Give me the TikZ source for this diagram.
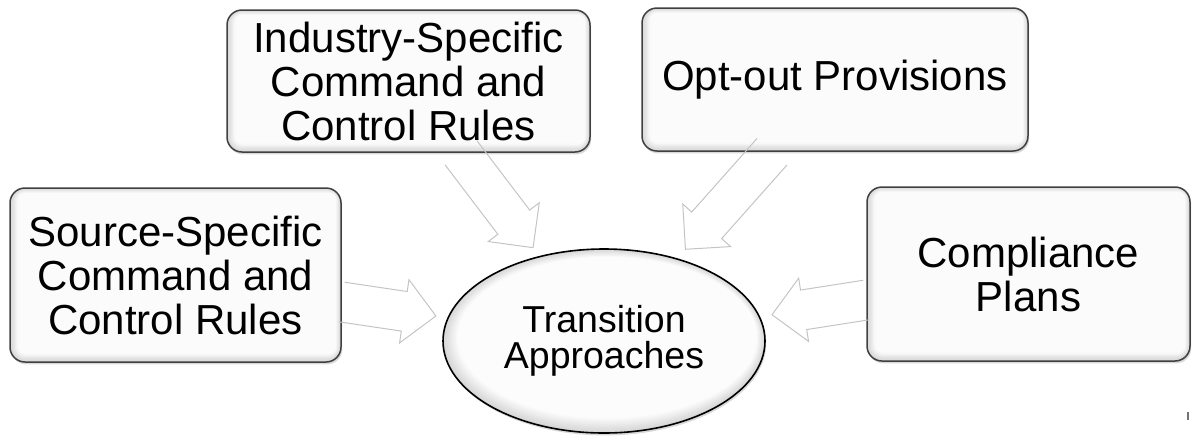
\documentclass[tikz,border=0pt]{standalone}
\usepackage{fontspec}
\setmainfont{Liberation Sans}
\usetikzlibrary{calc,shadows,shapes.geometric}

\definecolor{boxline}{HTML}{404040}
\definecolor{arrowline}{HTML}{C4C4C4}

% hollow block arrow from a tail point to a tip point (open at the tail)
\newcommand\fatarrow[3]{%
  \coordinate (#3-h) at ($(#2)!16pt!(#1)$);
  \draw[hollowarrow]
    ($(#1)!10pt!90:(#2)$) -- ($(#3-h)!10pt!-90:(#1)$) -- ($(#3-h)!16pt!-90:(#1)$)
    -- (#2) -- ($(#3-h)!16pt!90:(#1)$) -- ($(#3-h)!10pt!90:(#1)$)
    -- ($(#1)!10pt!-90:(#2)$);
}

\tikzset{
  hollowarrow/.style={draw=arrowline, line width=0.5pt, line join=miter},
  card/.style={
    draw=boxline, line width=0.75pt, rounded corners=7.5pt, fill=black!16,
    inner sep=0pt, align=center, font=\fontsize{21pt}{22pt}\selectfont,
    drop shadow={shadow xshift=0.6pt, shadow yshift=-1.2pt, fill=black, opacity=0.15},
    path picture={
      \foreach \k in {1,...,8}{
        \pgfmathsetmacro\tone{max(16-2.2*\k,1.5)}
        \pgfmathsetlengthmacro\ins{0.6pt*\k}
        \pgfmathsetlengthmacro\rad{max(7.5pt-0.6pt*\k,1pt)}
        \fill[black!\tone, rounded corners=\rad]
          ($(path picture bounding box.south west)+(\ins,\ins)$) rectangle
          ($(path picture bounding box.north east)-(0.6*\ins,0.6*\ins)$);
      }
    }
  },
  hub/.style={
    ellipse, draw=black, line width=0.8pt, fill=black!16, inner sep=0pt,
    minimum width=161pt, minimum height=92pt, align=center,
    font=\fontsize{18.75pt}{18pt}\selectfont,
    drop shadow={shadow xshift=0.6pt, shadow yshift=-1.2pt, fill=black, opacity=0.15},
    path picture={
      \foreach \k in {1,...,8}{
        \pgfmathsetmacro\tone{max(16-2.2*\k,1)}
        \pgfmathsetlengthmacro\ins{0.8pt*\k}
        \fill[black!\tone] ($(path picture bounding box.center)+(0.3*\ins,0.3*\ins)$)
          ellipse ({80.5pt-\ins} and {46pt-\ins});
      }
    }
  }
}

\begin{document}
\begin{tikzpicture}[x=0.5pt,y=-0.5pt]
\useasboundingbox (0,0) rectangle (1192,435);

% boxes around the centre
\node[card, minimum width=165.5pt, minimum height=87pt] (src) at (175.5,275)
  {Source-Specific\\Command and\\Control Rules};
\node[card, minimum width=181.5pt, minimum height=71pt] (ind) at (408.5,81)
  {Industry-Specific\\Command and\\Control Rules};
\node[card, minimum width=193pt, minimum height=71.5pt] (opt) at (835,79.5)
  {Opt-out Provisions};
\node[card, minimum width=161.5pt, minimum height=87pt] (cmp) at (1028.5,274)
  {Compliance\\Plans};

% central ellipse
\node[hub] (ell) at (604,341) {Transition\\Approaches};

% block arrows into the ellipse
\coordinate (a1t) at ([yshift=-13.5pt]src.east);
\coordinate (a1p) at ($(a1t)!47.6pt!(ell.center)$);
\fatarrow{a1t}{a1p}{a1}

\coordinate (a2t) at ([yshift=-13pt]cmp.west);
\coordinate (a2p) at ($(a2t)!47.7pt!(ell.center)$);
\fatarrow{a2t}{a2p}{a2}

\coordinate (a3t) at ([xshift=26.25pt]ind.south);
\coordinate (a3p) at ($(a3t)!59.6pt!(ell.center)$);
\fatarrow{a3t}{a3p}{a3}

\coordinate (a4t) at ([xshift=-31.5pt]opt.south);
\coordinate (a4p) at ($(a4t)!65.2pt!(ell.center)$);
\fatarrow{a4t}{a4p}{a4}

% slide number stub in the corner
\fill[black!55] (1187,412) rectangle (1189,420);
\end{tikzpicture}
\end{document}
